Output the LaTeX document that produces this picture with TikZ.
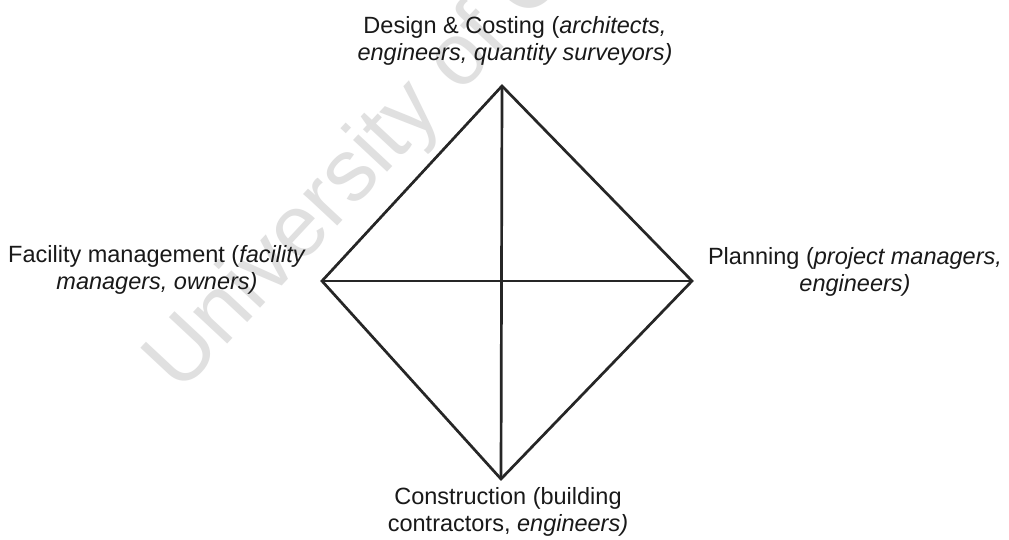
\documentclass[tikz,border=0pt]{standalone}
\usepackage{fontspec}
\setmainfont{Liberation Sans}
\begin{document}
\begin{tikzpicture}[x=1pt,y=-1pt,
  lbl/.style={align=center, font=\fontsize{23.5}{27}\selectfont, inner sep=0pt, text=black!90},
  edge/.style={line width=2.7pt, black!85},
  wmark/.style={text=black!12, font=\fontsize{88}{88}\selectfont, inner sep=0pt}]
\useasboundingbox (0,0) rectangle (1009,540);
\clip (0,0) rectangle (1009,540);
\fill[white] (0,0) rectangle (1009,540);
\node[wmark, rotate=47, anchor=base west] (wm) at (180,395) {University of Cape Town};
\coordinate (T) at (502,86);
\coordinate (L) at (322,281);
\coordinate (R) at (692,281);
\coordinate (B) at (501,479);
\draw[edge] (T) -- (R) -- (B) -- (L) -- cycle;
\draw[edge] (T) -- (B);
\draw[edge] (L) -- (R);
\node[lbl] (top) at (515,40.5) {Design \& Costing (\textit{architects,}\\\textit{engineers, quantity surveyors)}};
\node[lbl] (left) at (157,270) {Facility management (\textit{facility}\\\textit{managers, owners)}};
\node[lbl] (right) at (855,272) {Planning (\textit{project managers,}\\\textit{engineers)}};
\node[lbl] (bottom) at (508,511.5) {Construction (building\\contractors, \textit{engineers)}};
\end{tikzpicture}
\end{document}
